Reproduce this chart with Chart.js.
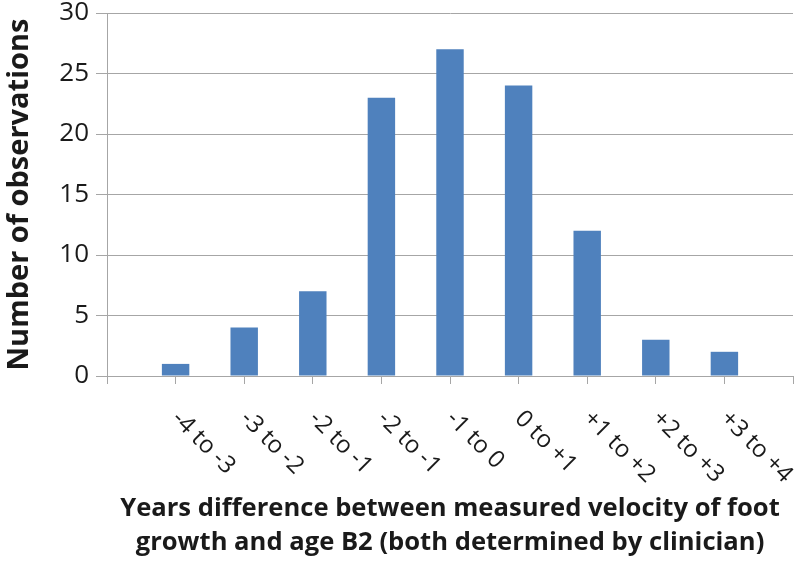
<!DOCTYPE html>
<html lang="en">
<head>
  <meta charset="UTF-8">
  <title>Years difference histogram</title>
  <script src="https://cdn.jsdelivr.net/npm/chart.js"></script>
  <style>
    html, body { margin: 0; padding: 0; background: #fff; }
    #wrap { width: 800px; height: 563px; }
  </style>
</head>
<body>
<div id="wrap">
  <canvas id="barChart" width="800" height="563"></canvas>
</div>

<script>
  // categories (empty slots at both ends so bars sit on tick marks)
  const categories = ['', '-4 to -3', '-3 to -2', '-2 to -1', '-2 to -1', '-1 to 0', '0 to +1', '+1 to +2', '+2 to +3', '+3 to +4', ''];
  const observations = [null, 1, 4, 7, 23, 27, 24, 12, 3, 2, null];
  const yTicks = [0, 5, 10, 15, 20, 25, 30];

  const gridGray = '#a6a6a6';
  const textColor = '#1a1a1a';
  const fontFamily = "'Open Sans', 'Liberation Sans', sans-serif";

  // draws the category labels slanting down to the right, starting at each tick
  const slantLabels = {
    id: 'slantLabels',
    afterDraw(chart) {
      const ctx = chart.ctx;
      const xScale = chart.scales.x;
      ctx.save();
      ctx.font = '24px ' + fontFamily;
      ctx.fillStyle = textColor;
      ctx.textAlign = 'left';
      ctx.textBaseline = 'middle';
      categories.forEach((label, i) => {
        if (!label) return;
        const x = xScale.getPixelForTick(i);
        ctx.save();
        ctx.translate(x, chart.chartArea.bottom + 39);
        ctx.rotate(Math.PI / 4);
        ctx.fillText(label, 0, 0);
        ctx.restore();
      });
      ctx.restore();
    }
  };

  const chartdata = {
    labels: categories,
    datasets: [{
      label: 'Number of observations',
      data: observations,
      backgroundColor: '#4f81bd',
      borderWidth: 0,
      barPercentage: 0.4,
      categoryPercentage: 1.0
    }]
  };

  const config = {
    type: 'bar',
    data: chartdata,
    options: {
      responsive: false,
      animation: false,
      layout: { padding: { top: 13, right: 7, bottom: 0, left: 0 } },
      plugins: {
        legend: { display: false },
        tooltip: { enabled: false }
      },
      scales: {
        x: {
          offset: false,
          grid: {
            offset: false,
            drawOnChartArea: false,
            drawTicks: true,
            tickLength: 8,
            color: gridGray
          },
          border: { color: gridGray, width: 1 },
          ticks: { display: false },
          title: {
            display: true,
            text: ['Years difference between measured velocity of foot', 'growth and age B2 (both determined by clinician)'],
            color: textColor,
            font: { family: fontFamily, size: 25.6, weight: 'bold', lineHeight: 1.3 },
            padding: { top: 0, bottom: 4 }
          },
          afterFit: s => { s.height = 187; s.paddingLeft = 0; s.paddingRight = 0; }
        },
        y: {
          min: 0,
          max: 30,
          afterBuildTicks: s => { s.ticks = yTicks.map(v => ({ value: v })); },
          grid: {
            color: gridGray,
            tickLength: 11,
            drawTicks: true
          },
          border: { color: gridGray, width: 1 },
          ticks: {
            color: textColor,
            padding: 7,
            font: { family: fontFamily, size: 26 }
          },
          title: {
            display: true,
            text: 'Number of observations',
            color: textColor,
            font: { family: fontFamily, size: 29, weight: 'bold' },
            padding: { top: 2, bottom: 0 }
          },
          afterFit: s => { s.width = 107; s.paddingTop = 0; s.paddingBottom = 0; }
        }
      }
    },
    plugins: [slantLabels]
  };

  new Chart(document.getElementById('barChart'), config);
</script>
</body>
</html>
